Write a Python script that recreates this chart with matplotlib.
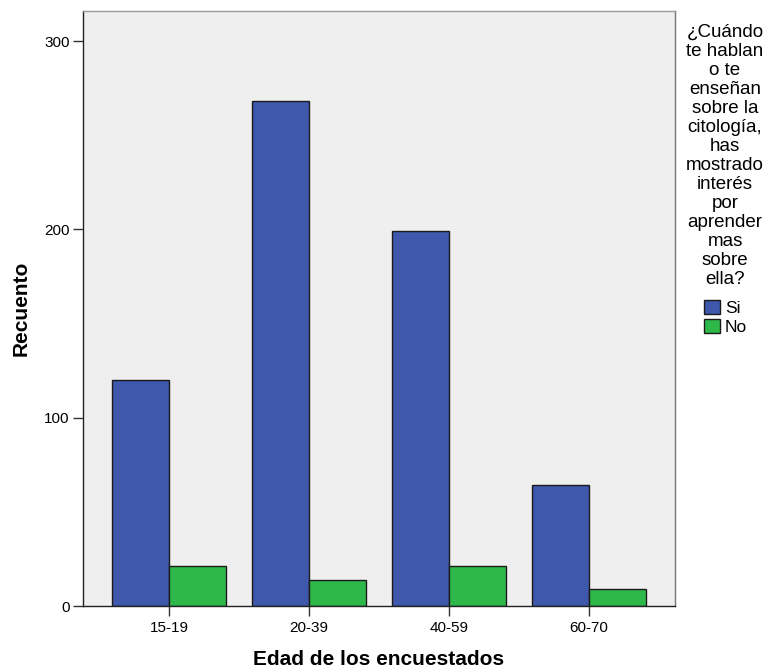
import matplotlib.pyplot as plt
import numpy as np

plt.rcParams["font.family"] = ["Liberation Sans", "DejaVu Sans"]

# datos
grupos = ["15-19", "20-39", "40-59", "60-70"]
si = [120, 268, 199, 64]
no = [21, 14, 21, 9]
yticks = [0, 100, 200, 300]
titulo_leyenda = ["¿Cuándo", "te hablan", "o te", "enseñan", "sobre la", "citología,", "has",
                  "mostrado", "interés", "por", "aprender", "mas", "sobre", "ella?"]

AZUL = "#3E58AC"
VERDE = "#2FB84A"
BORDE = "#1a1a1a"

W, H = 767, 670
fig = plt.figure(figsize=(W / 100, H / 100), dpi=100)
ax = fig.add_axes([83 / W, 1 - 606 / H, (675 - 83) / W, (606 - 11) / H])
ax.set_facecolor("#EFEFEF")

x = np.arange(len(grupos))
w = 0.405
ax.bar(x - w / 2, si, w, color=AZUL, edgecolor=BORDE, linewidth=1.0, label="Si")
ax.bar(x + w / 2, no, w, color=VERDE, edgecolor=BORDE, linewidth=1.0, label="No")

ax.set_xlim(-0.614, len(grupos) - 1 + 0.614)
ax.set_ylim(0, 316)
ax.set_xticks(x)
ax.set_xticklabels(grupos, fontsize=11)
ax.set_yticks(yticks)
ax.set_yticklabels([str(t) for t in yticks], fontsize=11)
ax.tick_params(axis="both", length=7, width=1.0, color="#333333", pad=2.5)
ax.tick_params(axis="x", pad=3.5)
for s in ax.spines.values():
    s.set_color("#222222")
    s.set_linewidth(1.0)
ax.spines["top"].set_color("#999999")
ax.spines["right"].set_color("#777777")

ax.set_xlabel("Edad de los encuestados", fontsize=15, fontweight="bold", labelpad=11)
ax.set_ylabel("Recuento", fontsize=15, fontweight="bold", labelpad=10)

# título de la leyenda, línea por línea
for i, linea in enumerate(titulo_leyenda):
    fig.text(725 / W, 1 - (37 + 19 * i) / H, linea, ha="center", va="baseline", fontsize=13.5)

h, l = ax.get_legend_handles_labels()
fig.legend(h, l, loc="upper left", bbox_to_anchor=(704 / W, 1 - 300 / H),
           frameon=False, fontsize=12.5, handlelength=0.95, handleheight=0.85,
           handletextpad=0.25, labelspacing=0.2, borderpad=0, borderaxespad=0)

fig.savefig("out.png", dpi=100)
